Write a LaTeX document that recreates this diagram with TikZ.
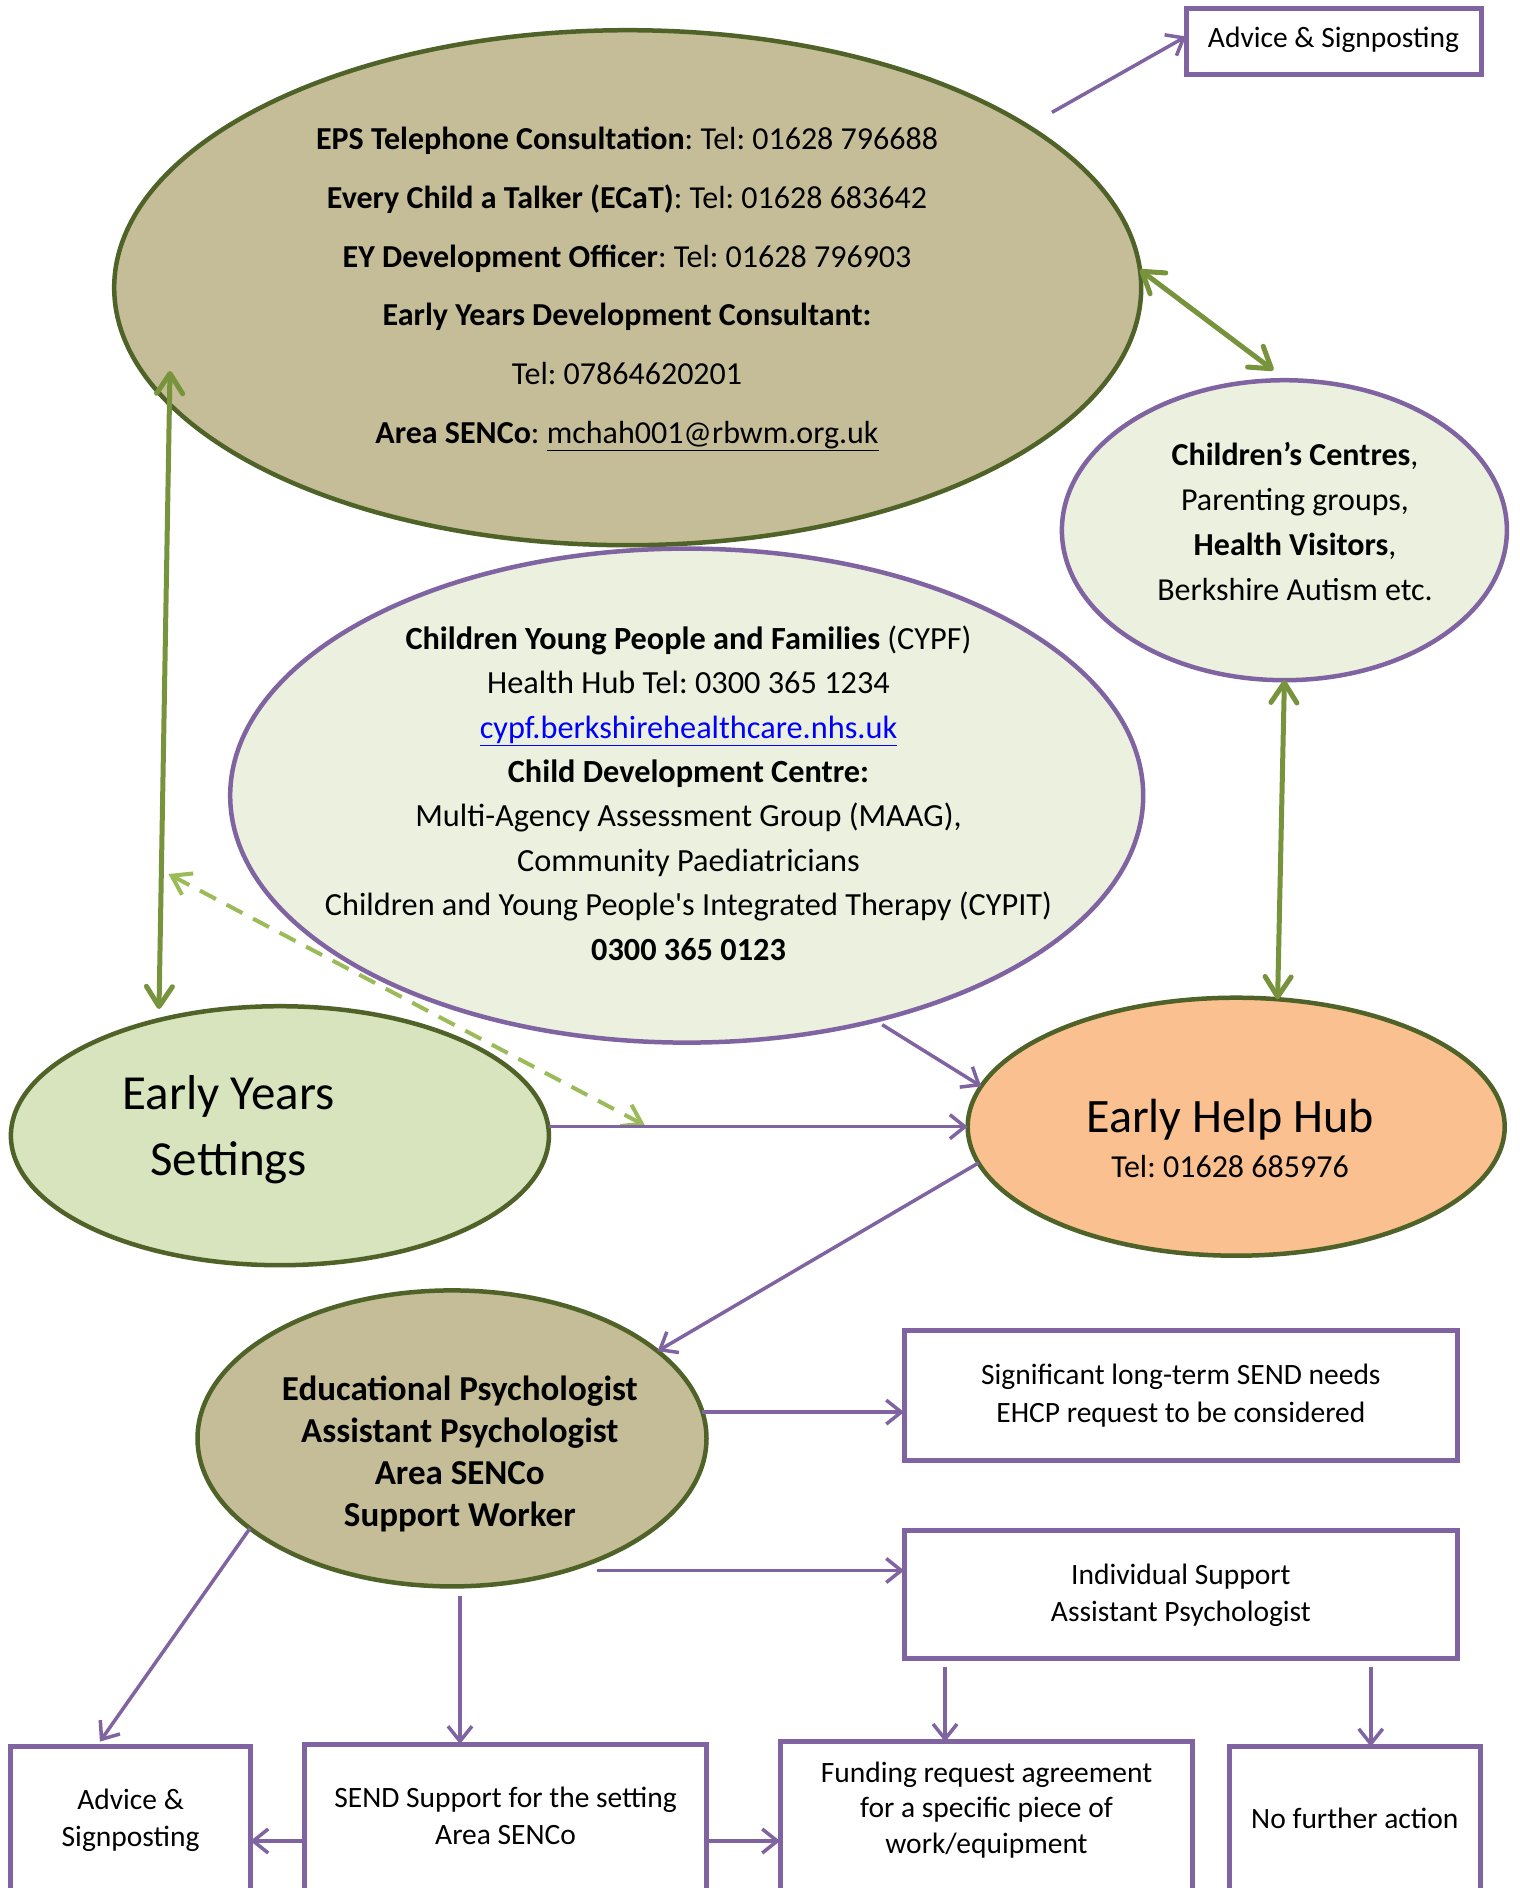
\documentclass[tikz,border=0pt]{standalone}
\usepackage{fontspec}
\setmainfont{Carlito}
\usetikzlibrary{shapes.geometric,arrows.meta,calc}
\definecolor{tanfill}{HTML}{C4BD97}
\definecolor{olivedk}{HTML}{4F6228}
\definecolor{palegreen}{HTML}{EBF1DE}
\definecolor{lightgreen}{HTML}{D7E4BD}
\definecolor{peach}{HTML}{FAC090}
\definecolor{purp}{HTML}{8064A2}
\definecolor{garrow}{HTML}{77933C}
\definecolor{gdash}{HTML}{9BBB59}
\definecolor{linkblue}{HTML}{0000FF}
\tikzset{
  ell/.style={ellipse, inner sep=0pt, outer sep=0pt, line width=4.5pt},
  boxn/.style={rectangle, draw=purp, line width=5pt, fill=white, inner sep=0pt, outer sep=0pt},
  txt/.style={align=center, inner sep=0pt},
  parr/.style={draw=purp, line width=3.5pt, -{Straight Barb[length=15pt,width=24pt,line width=3.5pt]}},
  garr/.style={draw=garrow, line width=5pt, line cap=round,
    {Straight Barb[length=20pt,width=26pt,line width=5pt,round]}-{Straight Barb[length=20pt,width=26pt,line width=5pt,round]}},
  gdarr/.style={draw=gdash, line width=4pt, dash pattern=on 18pt off 12pt,
    {Straight Barb[length=18pt,width=24pt,line width=4pt]}-{Straight Barb[length=18pt,width=24pt,line width=4pt]}},
}
\begin{document}
\frenchspacing
\begin{tikzpicture}[x=1pt,y=-1pt]
\clip (0,0) rectangle (1519,1888);
\fill[white] (0,0) rectangle (1519,1888);

% ellipses
\node[ell, draw=olivedk, fill=tanfill, minimum width=1027pt, minimum height=515pt] (big) at (627.7,287.7) {};
\node[ell, draw=purp, fill=palegreen, minimum width=445pt, minimum height=300pt] (cc) at (1284.4,530.2) {};
\node[ell, draw=purp, fill=palegreen, minimum width=913pt, minimum height=494pt] (cypf) at (686.7,795.6) {};
\node[ell, draw=olivedk, fill=lightgreen, minimum width=538pt, minimum height=259pt] (eys) at (279.9,1135.7) {};
\node[ell, draw=olivedk, fill=peach, minimum width=537pt, minimum height=258pt] (ehh) at (1236.2,1126.7) {};
\node[ell, draw=olivedk, fill=tanfill, minimum width=509pt, minimum height=296pt] (ep) at (452,1438.4) {};

% boxes
\node[boxn, minimum width=295pt, minimum height=66pt] (adv1) at (1333.5,41.5) {};
\node[boxn, minimum width=553.7pt, minimum height=130pt] (sig) at (1180.9,1395) {};
\node[boxn, minimum width=553.7pt, minimum height=128.7pt] (ind) at (1180.9,1594.4) {};
\node[boxn, minimum width=239.6pt, minimum height=153.4pt] (adv2) at (130.6,1823.3) {};
\node[boxn, minimum width=402.1pt, minimum height=156pt] (send) at (505.6,1822) {};
\node[boxn, minimum width=412.9pt, minimum height=158.2pt] (fund) at (986.5,1820.9) {};
\node[boxn, minimum width=251.6pt, minimum height=153.4pt] (nfa) at (1354.8,1823.3) {};

% texts
\node[txt, font=\fontsize{32}{58.7}\selectfont] (bigtxt) at (627,289) {%
\textbf{EPS Telephone Consultation}: Tel: 01628 796688\\
\textbf{Every Child a Talker (ECaT)}: Tel: 01628 683642\\
\textbf{EY Development Officer}: Tel: 01628 796903\\
\textbf{Early Years Development Consultant:}\\
Tel: 07864620201\\
\textbf{Area SENCo}: \underline{mchah001@rbwm.org.uk}};

\node[txt, font=\fontsize{32}{45}\selectfont] (cctxt) at (1295,521) {%
\textbf{Children’s Centres},\\
Parenting groups,\\
\textbf{Health Visitors},\\
Berkshire Autism etc.};

\node[txt, font=\fontsize{32.3}{44.4}\selectfont] (cypftxt) at (688.5,793) {%
\textbf{Children Young People and Families} (CYPF)\\
Health Hub Tel: 0300 365 1234\\
\textcolor{linkblue}{\underline{cypf.berkshirehealthcare.nhs.uk}}\\
\textbf{Child Development Centre:}\\
Multi-Agency Assessment Group (MAAG),\\
Community Paediatricians\\
Children and Young People\textquotesingle s Integrated Therapy (CYPIT)\\
\textbf{0300 365 0123}};

\node[txt, font=\fontsize{49}{66}\selectfont] (eystxt) at (228.7,1130) {Early Years\\Settings};

\node[txt, font=\fontsize{48}{56}\selectfont] (ehhtxt1) at (1230,1119.5) {Early Help Hub};
\node[txt, font=\fontsize{32}{40}\selectfont] (ehhtxt2) at (1230,1166.4) {Tel: 01628 685976};

\node[txt, font=\fontsize{35}{42}\selectfont\bfseries] (eptxt) at (459.8,1453.5) {%
Educational Psychologist\\
Assistant Psychologist\\
Area SENCo\\
Support Worker};

\node[txt, font=\fontsize{29.5}{37}\selectfont] (adv1txt) at (1333.5,40) {Advice \& Signposting};
\node[txt, font=\fontsize{29.5}{37.3}\selectfont] (sigtxt) at (1180.9,1395.5) {Significant long-term SEND needs\\EHCP request to be considered};
\node[txt, font=\fontsize{29.5}{37.3}\selectfont] (indtxt) at (1180.9,1595.5) {Individual Support\\Assistant Psychologist};
\node[txt, font=\fontsize{29.5}{37}\selectfont] (adv2txt) at (130.6,1820) {Advice \&\\Signposting};
\node[txt, font=\fontsize{29.5}{37.3}\selectfont] (sendtxt) at (505.6,1816) {SEND Support for the setting\\Area SENCo};
\node[txt, font=\fontsize{29.5}{35.5}\selectfont] (fundtxt) at (986.5,1810) {Funding request agreement\\for a specific piece of\\work/equipment};
\node[txt, font=\fontsize{29.5}{37}\selectfont] (nfatxt) at (1354.8,1818.8) {No further action};

% green connectors
\coordinate (gltop) at (170,371);
\coordinate (glbot) at (159,1009);
\draw[garr] (glbot) -- (gltop);
\draw[garr] (big.2) -- ($(cc.north)+(-11,-10)$);
\draw[garr] (cc.south) -- (ehh.72);
\coordinate (dsA) at (168.5,874);
\coordinate (dsB) at (645,1125.5);
\draw[gdarr] (dsA) -- (dsB);

% purple connectors
\draw[parr, shorten <=28pt] (big.22) -- ([yshift=5pt]adv1.west);
\draw[parr] (eys.east |- ehh.west) -- (ehh.west);
\draw[parr, shorten <=8pt] (cypf.-50) -- (ehh.171);
\draw[parr] (ehh.188) -- (ep.23.5);
\draw[parr] (ep.6) -- (ep.6 -| sig.west);
\draw[parr, shorten <=30pt] (ep.-49.2) -- (ep.-49.2 -| ind.west);
\draw[parr] (ep.204.5) -- ([xshift=-30.7pt,yshift=5pt]adv2.north);
\draw[parr, shorten <=10pt] ([xshift=8pt]ep.south) -- ([xshift=8pt]ep.south |- send.north);
\draw[parr] ([yshift=-19pt]send.west) -- ([yshift=-19pt]send.west -| adv2.east);
\draw[parr] ([yshift=-19pt]send.east) -- ([yshift=-19pt]send.east -| fund.west);
\draw[parr, shorten <=8pt] ([xshift=41pt]ind.south west) -- ([xshift=41pt]ind.south west |- fund.north);
\draw[parr, shorten <=8pt] ([xshift=-87pt]ind.south east) -- ([xshift=-87pt]ind.south east |- nfa.north);
\end{tikzpicture}
\end{document}
